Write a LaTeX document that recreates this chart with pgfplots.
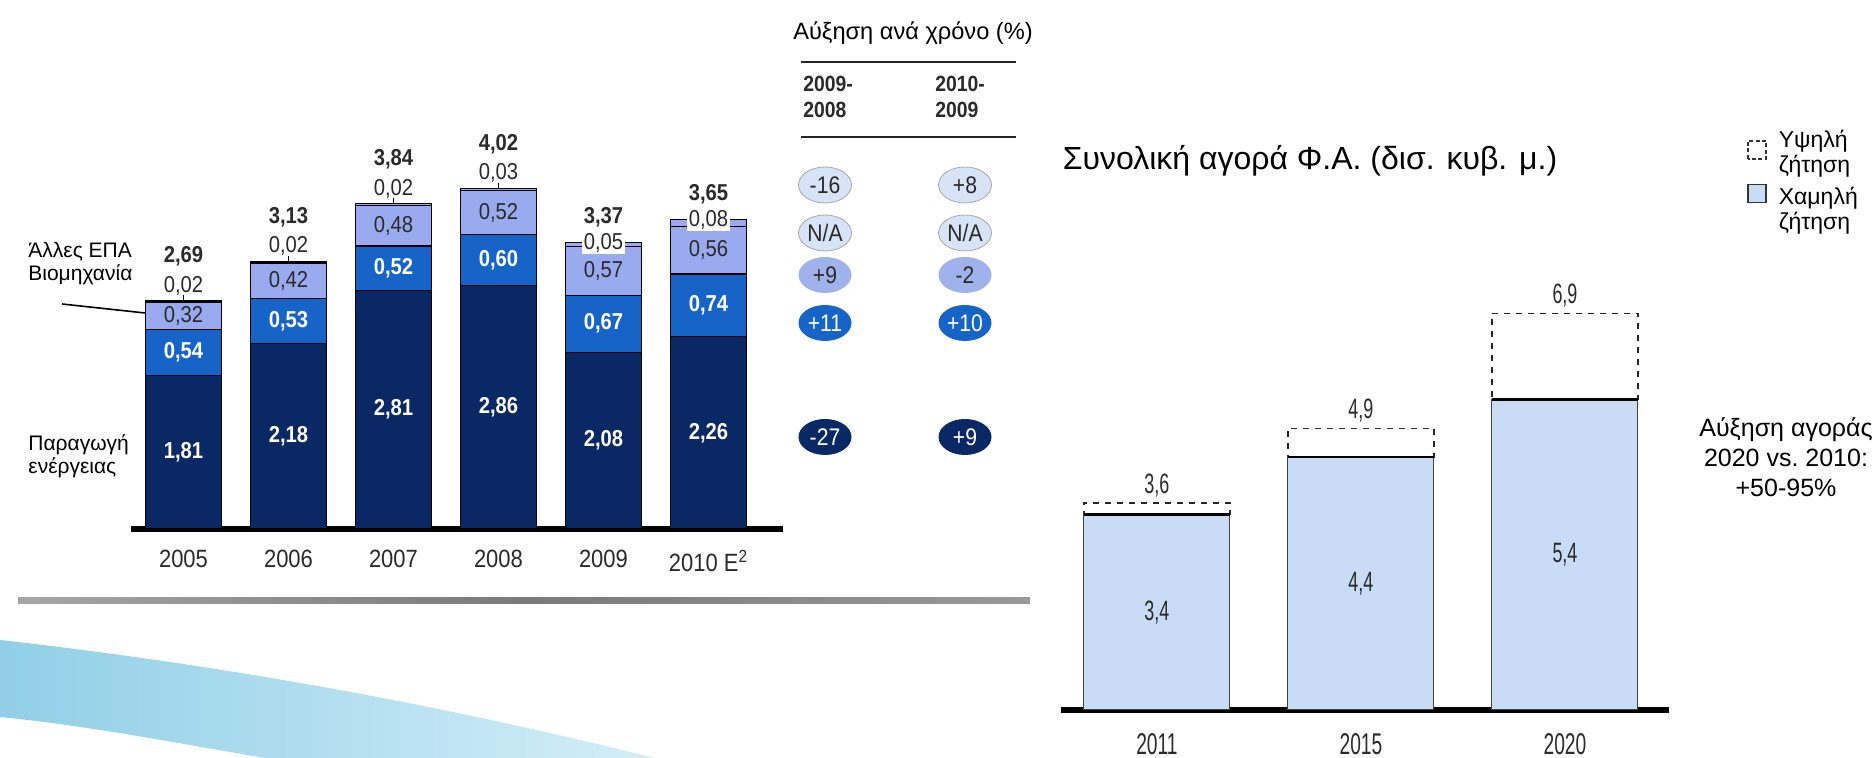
\documentclass[border=0pt]{standalone}
\usepackage{fontspec}
\setmainfont{Liberation Sans}
\newfontfamily\narrow[FakeStretch=0.88]{Liberation Sans}
\newfontfamily\rnarrow[FakeStretch=0.64]{Liberation Sans}
\usepackage{pgfplots}
\pgfplotsset{compat=1.18}
\usetikzlibrary{shapes.geometric}
\definecolor{navy}{HTML}{0A2864}
\definecolor{midblue}{HTML}{1664C8}
\definecolor{periw}{HTML}{99AAEE}
\definecolor{palebub}{HTML}{D7E4F7}
\definecolor{bub3}{HTML}{A0B2EC}
\definecolor{lowfill}{HTML}{C8DCF5}
\definecolor{swooshA}{HTML}{90CFE7}
\definecolor{swooshB}{HTML}{D4EEF7}
\definecolor{txt}{HTML}{2A2A2A}
\tikzset{
  vin/.style={font=\narrow\bfseries\fontsize{11.5}{13}\selectfont, text=white},
  vl/.style={font=\narrow\fontsize{11.5}{13}\selectfont, text=txt},
  vt/.style={font=\narrow\bfseries\fontsize{11.5}{13}\selectfont, text=txt},
  rl/.style={font=\rnarrow\fontsize{14}{16}\selectfont, text=txt},
  bub/.style={ellipse, minimum width=26.5pt, minimum height=18pt, inner sep=0pt, font=\narrow\fontsize{12}{13}\selectfont},
}
\begin{document}
\begin{tikzpicture}
\useasboundingbox (0pt,0pt) rectangle (937pt,379pt);
\begin{scope}[x=0.5pt,y=-0.5pt,shift={(0pt,379pt)}]
  % decorative swoosh
  \shade[left color=swooshA, right color=swooshB] (0,640) .. controls (250,668) and (470,712) .. (655,758) -- (265,758) .. controls (170,742) and (90,726) .. (0,717) -- cycle;
  % grey rule under the left chart
  \shade[left color=black!35, right color=black!40, middle color=black!52] (18,598) rectangle (1030,604);
  % left annotations
  \node[anchor=west, align=left, inner sep=0pt, font=\fontsize{10.5}{11.5}\selectfont] at (28,264) {Άλλες ΕΠΑ\\Βιομηχανία};
  \node[anchor=west, align=left, inner sep=0pt, font=\fontsize{10.5}{11.5}\selectfont] at (28,456) {Παραγωγή\\ενέργειας};
  \draw[line width=0.8pt] (62,304) -- (145,313);
  % growth table
  \node[font=\fontsize{11.8}{14}\selectfont] at (913,33) {Αύξηση ανά χρόνο (\%)};
  \draw[line width=1pt, black!85] (801,62) -- (1016,62);
  \draw[line width=1pt, black!85] (801,137) -- (1016,137);
  \node[anchor=west, align=left, inner sep=0pt, text=txt, font=\narrow\bfseries\fontsize{11}{13}\selectfont] at (803,97) {2009-\\2008};
  \node[anchor=west, align=left, inner sep=0pt, text=txt, font=\narrow\bfseries\fontsize{11}{13}\selectfont] at (935,97) {2010-\\2009};
  \node[bub, fill=palebub, draw=gray!70, text=txt] at (825,185) {-16};
  \node[bub, fill=palebub, draw=gray!70, text=txt] at (965,185) {+8};
  \node[bub, fill=palebub, draw=gray!70, text=txt] at (825,233) {N/A};
  \node[bub, fill=palebub, draw=gray!70, text=txt] at (965,233) {N/A};
  \node[bub, fill=bub3, text=txt] at (825,275) {+9};
  \node[bub, fill=bub3, text=txt] at (965,275) {-2};
  \node[bub, fill=midblue, text=white] at (825,323) {+11};
  \node[bub, fill=midblue, text=white] at (965,323) {+10};
  \node[bub, fill=navy, text=white] at (825,437) {-27};
  \node[bub, fill=navy, text=white] at (965,437) {+9};
  % right chart title and note
  \node[font=\fontsize{16}{18}\selectfont] at (1310,161) {Συνολική αγορά Φ.Α. (δισ. κυβ. μ.)};
  \node[align=center, font=\fontsize{12.5}{15}\selectfont] at (1786,457) {Αύξηση αγοράς\\2020 vs.\ 2010:\\+50-95\%};
\end{scope}

% ---------------- left chart ----------------
\begin{axis}[
  at={(65.5pt,114.5pt)}, anchor=south west, scale only axis,
  width=326pt, height=212.5pt,
  xmin=-0.5, xmax=5.71, ymin=0, ymax=5,
  ybar stacked, bar width=38pt,
  hide y axis, axis x line*=bottom,
  x axis line style={-, line width=3pt},
  xtick={0,1,2,3,4,5},
  xticklabels={2005,2006,2007,2008,2009,{2010 E\textsuperscript{2}}},
  major tick length=0pt,
  xticklabel style={font=\narrow\fontsize{12.5}{14}\selectfont, text=txt, inner sep=0pt, yshift=-10.5pt},
  clip=false,
]
\addplot[fill=navy, draw=black, line width=0.6pt] coordinates {(0,1.81)(1,2.18)(2,2.81)(3,2.86)(4,2.08)(5,2.26)};
\addplot[fill=midblue, draw=black, line width=0.6pt] coordinates {(0,0.54)(1,0.53)(2,0.52)(3,0.60)(4,0.67)(5,0.74)};
\addplot[fill=periw, draw=black, line width=0.6pt] coordinates {(0,0.32)(1,0.42)(2,0.48)(3,0.52)(4,0.57)(5,0.56)};
\addplot[fill=periw, draw=black, line width=0.6pt] coordinates {(0,0.02)(1,0.02)(2,0.02)(3,0.03)(4,0.05)(5,0.08)};
% anchor points for the value labels (navy / mid / light / top)
\coordinate (n0) at (axis cs:0,0.905);  \coordinate (m0) at (axis cs:0,2.08);  \coordinate (l0) at (axis cs:0,2.51);  \coordinate (t0) at (axis cs:0,2.69);
\coordinate (n1) at (axis cs:1,1.09);   \coordinate (m1) at (axis cs:1,2.445); \coordinate (l1) at (axis cs:1,2.92);  \coordinate (t1) at (axis cs:1,3.15);
\coordinate (n2) at (axis cs:2,1.405);  \coordinate (m2) at (axis cs:2,3.07);  \coordinate (l2) at (axis cs:2,3.57);  \coordinate (t2) at (axis cs:2,3.83);
\coordinate (n3) at (axis cs:3,1.43);   \coordinate (m3) at (axis cs:3,3.16);  \coordinate (l3) at (axis cs:3,3.72);  \coordinate (t3) at (axis cs:3,4.01);
\coordinate (n4) at (axis cs:4,1.04);   \coordinate (m4) at (axis cs:4,2.415); \coordinate (l4) at (axis cs:4,3.035); \coordinate (t4) at (axis cs:4,3.37);
\coordinate (n5) at (axis cs:5,1.13);   \coordinate (m5) at (axis cs:5,2.63);  \coordinate (l5) at (axis cs:5,3.28);  \coordinate (t5) at (axis cs:5,3.64);
\end{axis}
% value labels over the bars
\node[vin] at (n0) {1,81}; \node[vin] at (n1) {2,18}; \node[vin] at (n2) {2,81};
\node[vin] at (n3) {2,86}; \node[vin] at (n4) {2,08}; \node[vin] at (n5) {2,26};
\node[vin] at (m0) {0,54}; \node[vin] at (m1) {0,53}; \node[vin] at (m2) {0,52};
\node[vin] at (m3) {0,60}; \node[vin] at (m4) {0,67}; \node[vin] at (m5) {0,74};
\node[vl] at (l0) {0,32}; \node[vl] at (l1) {0,42}; \node[vl] at (l2) {0,48};
\node[vl] at (l3) {0,52}; \node[vl] at (l4) {0,57}; \node[vl] at (l5) {0,56};
\draw[line width=0.6pt] (t0) -- ++(0pt,2.5pt);
\draw[line width=0.6pt] (t1) -- ++(0pt,2.5pt);
\draw[line width=0.6pt] (t2) -- ++(0pt,2.5pt);
\draw[line width=0.6pt] (t3) -- ++(0pt,2.5pt);
\node[vl, anchor=south, inner sep=1pt] at ([yshift=1.5pt]t0) {0,02};
\node[vl, anchor=south, inner sep=1pt] at ([yshift=1.5pt]t1) {0,02};
\node[vl, anchor=south, inner sep=1pt] at ([yshift=1.5pt]t2) {0,02};
\node[vl, anchor=south, inner sep=1pt] at ([yshift=1.5pt]t3) {0,03};
\node[vt, anchor=south, inner sep=1pt] at ([yshift=16pt]t0) {2,69};
\node[vt, anchor=south, inner sep=1pt] at ([yshift=16pt]t1) {3,13};
\node[vt, anchor=south, inner sep=1pt] at ([yshift=16pt]t2) {3,84};
\node[vt, anchor=south, inner sep=1pt] at ([yshift=16pt]t3) {4,02};
\node[vl, fill=white, inner sep=1pt] at (t4) {0,05};
\node[vl, fill=white, inner sep=1pt] at (t5) {0,08};
\node[vt, anchor=south, inner sep=1pt] at ([yshift=6.5pt]t4) {3,37};
\node[vt, anchor=south, inner sep=1pt] at ([yshift=6.5pt]t5) {3,65};

% ---------------- right chart ----------------
\begin{axis}[
  at={(530.5pt,24pt)}, anchor=south west, scale only axis,
  width=304pt, height=230pt,
  xmin=-0.47, xmax=2.51, ymin=0, ymax=8,
  ybar stacked, bar width=73pt,
  hide y axis, axis x line*=bottom,
  x axis line style={-, line width=3pt},
  xtick={0,1,2}, xticklabels={2011,2015,2020},
  major tick length=0pt,
  xticklabel style={font=\rnarrow\fontsize{15}{17}\selectfont, text=txt, inner sep=0pt, yshift=-11.5pt},
  clip=false,
  reverse legend,
  legend style={at={(axis description cs:1.128,1.27)}, anchor=north west, draw=none, fill=none,
    font=\fontsize{11.5}{12.5}\selectfont, cells={align=left, anchor=west}, row sep=2pt, column sep=4pt, inner sep=0pt},
]
\addplot[fill=lowfill, draw=black!75, line width=0.5pt,
  legend image code/.code={\path[draw=none, fill=none] (0pt,-13pt) rectangle (9pt,13pt);
    \draw[fill=lowfill, draw=black!80, solid, line width=0.8pt] (0pt,4pt) rectangle (9pt,13pt);}]
  coordinates {(0,3.4)(1,4.4)(2,5.4)};
\addlegendentry{Χαμηλή\\ζήτηση}
\addplot[fill=none, draw=black!85, dashed, line width=0.7pt,
  legend image code/.code={\path[draw=none, fill=none] (0pt,-6pt) rectangle (9pt,6pt);
    \draw[draw=black!80, fill=none, line width=0.7pt, dash pattern=on 2pt off 1.2pt] (0pt,-3pt) rectangle (9pt,6pt);}]
  coordinates {(0,0.2)(1,0.5)(2,1.5)};
\addlegendentry{Υψηλή\\ζήτηση}
\coordinate (a0) at (axis cs:-0.358,3.4); \coordinate (b0) at (axis cs:0.358,3.4);
\coordinate (a1) at (axis cs:0.642,4.4);  \coordinate (b1) at (axis cs:1.358,4.4);
\coordinate (a2) at (axis cs:1.642,5.4);  \coordinate (b2) at (axis cs:2.358,5.4);
\coordinate (c0) at (axis cs:0,1.7); \coordinate (c1) at (axis cs:1,2.2); \coordinate (c2) at (axis cs:2,2.7);
\coordinate (h0) at (axis cs:0,3.6); \coordinate (h1) at (axis cs:1,4.9); \coordinate (h2) at (axis cs:2,6.9);
\end{axis}
% solid tops of the low-demand bars and value labels
\draw[line width=1.1pt] (a0) -- (b0);
\draw[line width=1.1pt] (a1) -- (b1);
\draw[line width=1.1pt] (a2) -- (b2);
\node[rl] at (c0) {3,4};
\node[rl] at (c1) {4,4};
\node[rl] at (c2) {5,4};
\node[rl, anchor=south, inner sep=1pt] at ([yshift=2pt]h0) {3,6};
\node[rl, anchor=south, inner sep=1pt] at ([yshift=2pt]h1) {4,9};
\node[rl, anchor=south, inner sep=1pt] at ([yshift=2pt]h2) {6,9};
\end{tikzpicture}
\end{document}
